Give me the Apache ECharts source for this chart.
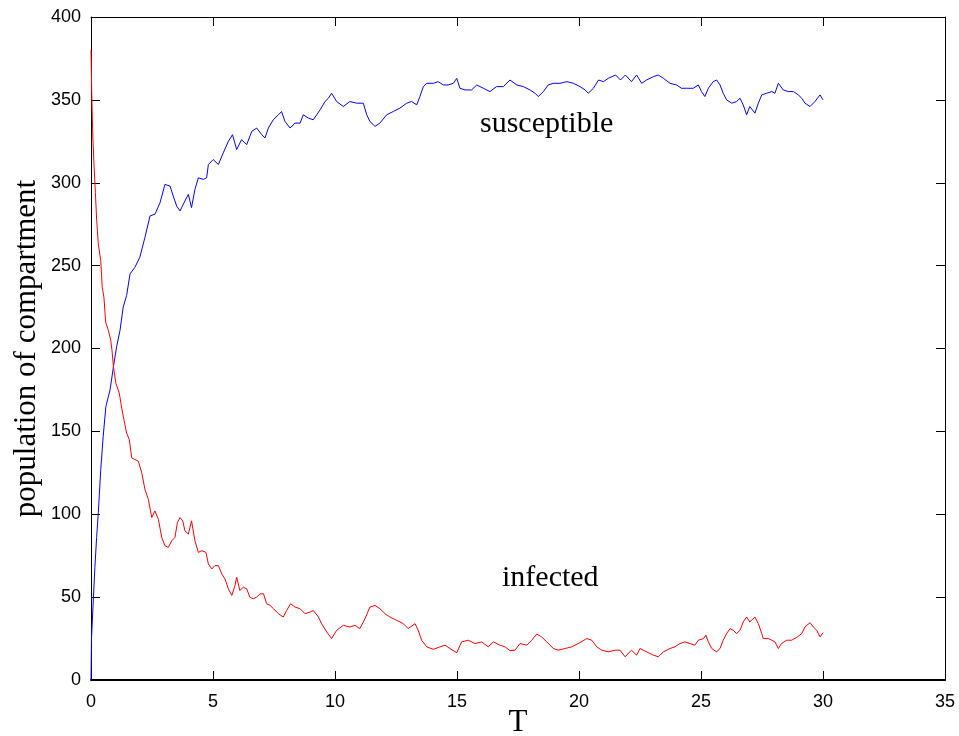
<!DOCTYPE html>
<html>
<head>
<meta charset="utf-8">
<script src="https://cdn.jsdelivr.net/npm/echarts@6/dist/echarts.min.js"></script>
<style>
  html, body { margin: 0; padding: 0; background: #fff; }
  #chart { width: 959px; height: 736px; }
</style>
</head>
<body>
<div id="chart"></div>
<script>
// susceptible compartment, [T, population]
var susceptible = [[0,0],[0.02,25],[0.06,25],[0.1,50],[0.16,68],[0.23,86],[0.3,101],[0.4,127],[0.5,147],[0.61,165],[0.78,175],[0.92,189],[1.05,201],[1.19,211],[1.32,225],[1.46,232],[1.6,245],[1.8,249],[2.0,255],[2.21,267],[2.42,280],[2.62,281],[2.83,288],[3.03,299],[3.24,298],[3.37,292],[3.51,286],[3.65,283],[3.85,289],[3.99,293],[4.12,285],[4.26,296],[4.4,303],[4.6,302],[4.74,303],[4.81,311],[5.01,314],[5.22,311],[5.42,318],[5.63,325],[5.8,329],[5.97,320],[6.17,326],[6.38,323],[6.59,331],[6.79,333],[7.0,329],[7.13,327],[7.27,333],[7.47,338],[7.68,341],[7.81,343],[7.95,337],[8.16,333],[8.36,336],[8.57,336],[8.7,341],[8.91,339],[9.11,338],[9.25,341],[9.39,344],[9.59,349],[9.73,351],[9.86,354],[10.07,349],[10.34,346],[10.61,349],[10.89,348],[11.16,348],[11.3,341],[11.43,337],[11.64,334],[11.84,336],[12.12,341],[12.39,343],[12.66,345],[12.94,348],[13.14,349],[13.35,347],[13.48,352],[13.62,358],[13.76,360],[14.03,360],[14.23,361],[14.44,359],[14.64,359],[14.85,360],[14.99,363],[15.12,357],[15.33,356],[15.6,356],[15.81,359],[16.08,357],[16.35,355],[16.62,358],[16.9,358],[17.17,362],[17.45,359],[17.72,358],[17.99,356],[18.2,354],[18.33,352],[18.54,355],[18.74,359],[18.95,360],[19.22,360],[19.5,361],[19.77,360],[20.04,358],[20.25,356],[20.38,354],[20.59,357],[20.8,362],[21.0,361],[21.2,363],[21.5,365],[21.7,362],[21.9,365],[22.15,361],[22.36,365],[22.57,360],[22.77,362],[23.05,364],[23.25,365],[23.46,363],[23.73,360],[24.0,359],[24.2,357],[24.41,357],[24.68,357],[24.89,359],[25.02,355],[25.16,352],[25.3,357],[25.5,361],[25.64,362],[25.78,359],[25.91,354],[26.05,350],[26.26,348],[26.46,349],[26.6,351],[26.73,347],[26.87,341],[27.0,346],[27.21,342],[27.35,348],[27.49,353],[27.69,354],[27.9,355],[28.03,354],[28.17,360],[28.37,356],[28.58,355],[28.79,355],[28.99,353],[29.13,351],[29.26,348],[29.47,346],[29.67,349],[29.88,353],[30.0,350]]

// infected compartment, [T, population]
var infected = [[0,380],[0.02,380],[0.03,354],[0.07,330],[0.12,312],[0.18,294],[0.23,278],[0.3,263],[0.4,253],[0.46,237],[0.53,231],[0.6,216],[0.71,211],[0.81,205],[0.86,199],[0.92,189],[1.02,179],[1.16,173],[1.26,164],[1.35,157],[1.46,149],[1.57,145],[1.67,134],[1.8,133],[1.94,132],[2.08,125],[2.21,115],[2.35,109],[2.49,98],[2.62,102],[2.76,97],[2.9,86],[3.03,81],[3.17,80],[3.31,84],[3.44,86],[3.54,95],[3.65,98],[3.76,96],[3.85,90],[3.99,88],[4.12,96],[4.26,84],[4.4,77],[4.54,78],[4.71,77],[4.81,70],[4.95,67],[5.08,69],[5.22,69],[5.36,64],[5.49,61],[5.63,55],[5.77,51],[5.9,57],[5.97,62],[6.1,54],[6.24,56],[6.38,55],[6.51,50],[6.65,49],[6.79,50],[6.93,52],[7.07,52],[7.2,46],[7.34,45],[7.48,43],[7.68,40],[7.88,38],[8.02,42],[8.18,46],[8.36,44],[8.57,43],[8.77,40],[8.98,41],[9.11,42],[9.32,38],[9.45,34],[9.66,29],[9.86,25],[10.07,30],[10.34,33],[10.61,32],[10.82,33],[11.02,31],[11.23,37],[11.43,44],[11.64,45],[11.84,43],[12.05,40],[12.25,38],[12.53,36],[12.8,34],[13.0,31],[13.28,34],[13.41,30],[13.55,24],[13.76,20],[14.03,18.5],[14.3,20],[14.51,21],[14.71,19],[14.99,16.5],[15.19,23],[15.46,24],[15.74,22],[16.01,23],[16.28,20],[16.49,23],[16.76,21],[16.97,20],[17.17,17.7],[17.38,18],[17.58,22],[17.86,21],[18.06,24],[18.27,27.7],[18.47,26],[18.68,23],[18.95,19],[19.15,18],[19.43,19],[19.7,20],[19.97,22],[20.32,25],[20.52,24],[20.73,20],[20.93,18],[21.2,17],[21.48,18],[21.68,18],[21.89,14],[22.15,18],[22.36,15],[22.5,19],[22.77,17],[23.05,15],[23.25,14],[23.46,17],[23.73,19],[23.93,20],[24.14,22],[24.34,23],[24.55,22],[24.75,21],[24.89,24],[25.1,25],[25.2,27],[25.3,23],[25.44,19],[25.64,17],[25.78,19],[25.91,24],[26.05,28],[26.19,31],[26.32,30],[26.46,28],[26.6,30],[26.73,35],[26.87,38],[27.0,35],[27.21,38],[27.35,34],[27.49,28],[27.55,25],[27.76,25],[27.9,24],[28.03,23],[28.17,19],[28.3,22],[28.51,24],[28.71,24],[28.92,25.7],[29.13,28],[29.26,32],[29.47,34.6],[29.6,32],[29.74,30],[29.88,26],[30.0,28.5]]

var xRange = [0, 35, 5]
var yRange = [0, 400, 50]

var chart = echarts.init(document.getElementById('chart'))

var serif = '"Liberation Serif", "DejaVu Serif", serif'
var sans = '"Liberation Sans", Arial, sans-serif'

// plain black box axis, ticks pointing inward
function boxAxis (extra, lineWidth) {
  return Object.assign({
    type: 'value',
    nameMoveOverlap: false,
    axisLine: { show: true, onZero: false, lineStyle: { color: '#000', width: lineWidth || 1 } },
    axisTick: { show: true, inside: true, length: 9, lineStyle: { color: '#000' } },
    splitLine: { show: false }
  }, extra)
}

var option = {
  animation: false,
  backgroundColor: '#fff',
  grid: { left: 91, right: 14, top: 17, bottom: 56, containLabel: false, outerBoundsMode: 'none' },
  xAxis: [
    boxAxis({
      min: xRange[0], max: xRange[1], interval: xRange[2],
      position: 'bottom',
      name: 'T',
      nameLocation: 'middle',
      nameGap: 27,
      nameTextStyle: { fontFamily: serif, fontSize: 31, color: '#000' },
      axisLabel: { fontFamily: sans, fontSize: 18, color: '#000', margin: 13 }
    }, 2),
    boxAxis({
      min: xRange[0], max: xRange[1], interval: xRange[2],
      position: 'top',
      axisLabel: { show: false }
    })
  ],
  yAxis: [
    boxAxis({
      min: yRange[0], max: yRange[1], interval: yRange[2],
      position: 'left',
      name: 'population of compartment',
      nameLocation: 'middle',
      nameGap: 49,
      nameTextStyle: { fontFamily: serif, fontSize: 31, color: '#000' },
      axisLabel: { fontFamily: sans, fontSize: 18, color: '#000', margin: 10 }
    }),
    boxAxis({
      min: yRange[0], max: yRange[1], interval: yRange[2],
      position: 'right',
      axisLabel: { show: false }
    })
  ],
  series: [
    {
      name: 'susceptible',
      type: 'line',
      data: susceptible,
      showSymbol: false,
      lineStyle: { color: '#0000ff', width: 1 }
    },
    {
      name: 'infected',
      type: 'line',
      data: infected,
      showSymbol: false,
      lineStyle: { color: '#ff0000', width: 1 }
    }
  ],
  graphic: [
    {
      type: 'text', left: 480, top: 109,
      style: { text: 'susceptible', fontFamily: serif, fontSize: 30, fill: '#000' }
    },
    {
      type: 'text', left: 502, top: 563,
      style: { text: 'infected', fontFamily: serif, fontSize: 30, fill: '#000' }
    }
  ]
}

chart.setOption(option)
</script>
</body>
</html>
